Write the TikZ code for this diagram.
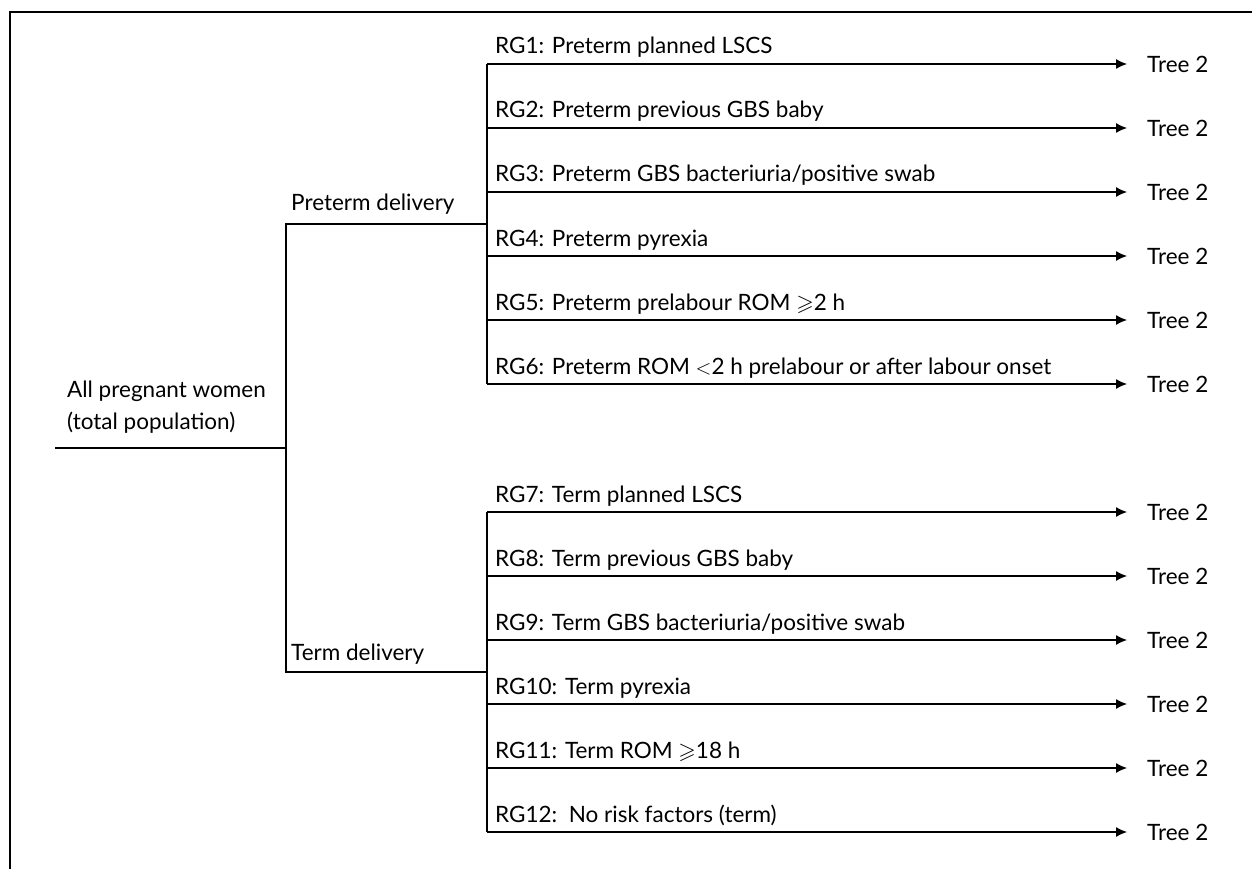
\documentclass[tikz,border=0pt]{standalone}
\usepackage{amssymb}
\usepackage{fontspec}
\setmainfont{Lato}
\usetikzlibrary{arrows.meta}
\begin{document}
\begin{tikzpicture}[x=1pt,y=-1pt,
  every node/.style={inner sep=0pt,font=\fontsize{22.5}{32}\selectfont},
  ln/.style={line width=1.1pt},
  arr/.style={line width=1.1pt,-{Latex[length=11pt,width=10pt]},shorten >=20pt},
  lbl/.style={anchor=base west}]
\useasboundingbox (0,0) rectangle (1252,869);
% frame
\draw[line width=1.5pt] (10,869) -- (10,12) -- (1252,12);
% root
\coordinate (r0) at (55,448);
\coordinate (r1) at (286,448);
\node[anchor=south west,align=left] (root) at (67,434) {All pregnant women\\(total population)};
\draw[ln] (r0) -- (r1);
% split
\coordinate (p0) at (286,224);
\coordinate (p1) at (487,224);
\coordinate (t0) at (286,672);
\coordinate (t1) at (487,672);
\draw[ln] (p1) -- (p0) -- (t0) -- (t1);
\node[lbl] (pre) at (291,211) {Preterm delivery};
\node[lbl] (term) at (291,660) {Term delivery};
% branches
\foreach \i/\y/\t in {
  1/64/{RG1: Preterm planned LSCS},
  2/128/{RG2: Preterm previous GBS baby},
  3/192/{RG3: Preterm GBS bacteriuria/positive swab},
  4/256/{RG4: Preterm pyrexia},
  5/320/{RG5: Preterm prelabour ROM $\geqslant$2 h},
  6/384/{RG6: Preterm ROM $<$2 h prelabour or after labour onset},
  7/512/{RG7: Term planned LSCS},
  8/576/{RG8: Term previous GBS baby},
  9/640/{RG9: Term GBS bacteriuria/positive swab},
  10/704/{RG10: Term pyrexia},
  11/768/{RG11: Term ROM $\geqslant$18 h},
  12/832/{RG12:\ \ No risk factors (term)}}{
  \coordinate (g\i) at (487,\y);
  \node[lbl] (rg\i) at (495,\y-10) {\t};
  \node[anchor=west] (tree\i) at (1147,\y) {Tree 2};
  \draw[arr] (g\i) -- (tree\i.west);
}
\draw[ln] (g1) -- (g6);
\draw[ln] (g7) -- (g12);
\end{tikzpicture}
\end{document}
